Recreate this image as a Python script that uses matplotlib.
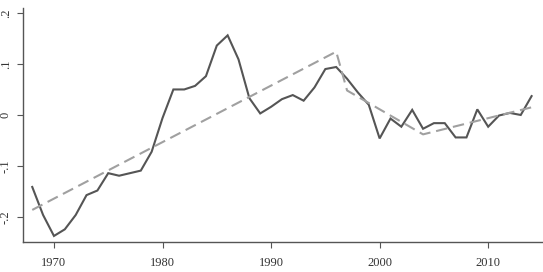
import numpy as np
import matplotlib
matplotlib.use("Agg")
from matplotlib import pyplot as plt

years = list(range(1968, 2015))
values = [-0.141, -0.196, -0.237, -0.224, -0.196, -0.157, -0.148, -0.114, -0.119, -0.114,
          -0.109, -0.072, -0.006, 0.050, 0.050, 0.057, 0.076, 0.136, 0.156, 0.109,
          0.033, 0.003, 0.016, 0.031, 0.039, 0.028, 0.054, 0.090, 0.094, 0.071,
          0.044, 0.020, -0.046, -0.007, -0.023, 0.010, -0.027, -0.016, -0.016, -0.044,
          -0.044, 0.011, -0.023, -0.001, 0.004, 0.000, 0.037]

# piecewise linear trend (break points)
trend_years = [1968, 1996, 1997, 2004, 2014]
trend_values = [-0.186, 0.124, 0.048, -0.038, 0.015]

yticks = [-0.2, -0.1, 0, 0.1, 0.2]
ytick_labels = ["-.2", "-.1", "0", ".1", ".2"]
xticks = [1970, 1980, 1990, 2000, 2010]

plt.rcParams['font.family'] = ['Liberation Serif', 'DejaVu Serif']

fig = plt.figure(figsize=(5.43, 2.72), dpi=100)
ax = fig.add_axes([0.0424, 0.110, 0.956, 0.861])

ax.plot(years, values, color="#555555", lw=1.5, solid_joinstyle="miter")
ax.plot(trend_years, trend_values, color="#a0a0a0", lw=1.5, dashes=(5.5, 2.8))

ax.set_xlim(1967.15, 2014.97)
ax.set_ylim(-0.249, 0.2098)
ax.set_xticks(xticks)
ax.set_yticks(yticks)
ax.set_yticklabels(ytick_labels, rotation=90, va="center")

for s in ["top", "right"]:
    ax.spines[s].set_visible(False)
for s in ["left", "bottom"]:
    ax.spines[s].set_color("#555555")
    ax.spines[s].set_linewidth(1.0)
ax.tick_params(colors="#555555", labelcolor="#333333", labelsize=9, length=4, width=0.8)
ax.tick_params(axis="x", pad=7)
ax.tick_params(axis="y", pad=4)

plt.savefig("out.png", dpi=100)
